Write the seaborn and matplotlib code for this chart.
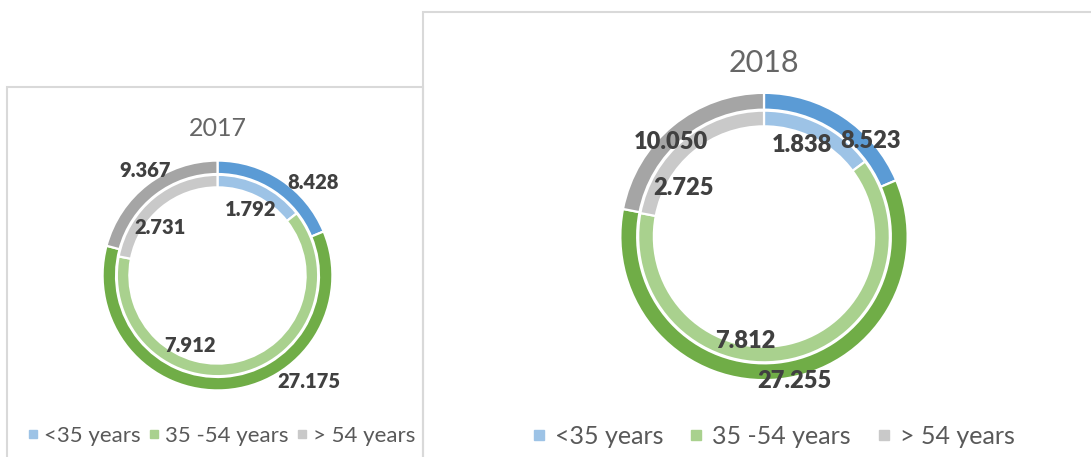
import matplotlib
matplotlib.use("Agg")
import matplotlib.pyplot as plt
import seaborn as sns
from matplotlib.lines import Line2D
from matplotlib.patches import Rectangle

# data
groups = ["<35 years", "35 -54 years", "> 54 years"]
years = ["2017", "2018"]
outer_2017 = [8.428, 27.175, 9.367]
inner_2017 = [1.792, 7.912, 2.731]
outer_2018 = [8.523, 27.255, 10.050]
inner_2018 = [1.838, 7.812, 2.725]

outer_colors = ["#5B9BD5", "#70AD47", "#A5A5A5"]
inner_colors = ["#9DC3E6", "#A9D18E", "#C9C9C9"]

sns.set_theme(style="white")
plt.rcParams["font.family"] = ["Lato", "DejaVu Sans"]

W, H = 1091, 457
fig = plt.figure(figsize=(W / 100, H / 100), dpi=100)

# panel frames (pixels: left, top, right)
for x0, y0, x1 in [(7, 87, 423), (423, 12, 1095)]:
    fig.add_artist(Rectangle((x0 / W, -0.05), (x1 - x0) / W, 1.05 - y0 / H,
                             transform=fig.transFigure, fill=False,
                             edgecolor="#D9D9D9", linewidth=1.5))

# panel layout: centre x, centre y, radius (px), title y, sizes, label spots
panels = [
    dict(cx=217.5, cy=275.5, r=114, ty=129, tsize=18, lsize=14.5, gx=222, gy=436, gsize=16,
         msize=5.5, hlen=0.4, gap=0.4, pad=0.3,
         spots_out=[(0.838, 0.820), (0.803, -0.934), (-0.636, 0.921)],
         spots_in=[(0.294, 0.575), (-0.241, -0.610), (-0.504, 0.417)]),
    dict(cx=764, cy=236.5, r=142.5, ty=63, tsize=22, lsize=17, gx=773, gy=436, gsize=18,
         msize=7, hlen=0.6, gap=1.0, pad=0.35,
         spots_out=[(0.744, 0.667), (0.211, -1.011), (-0.653, 0.660)],
         spots_in=[(0.267, 0.642), (-0.133, -0.730), (-0.568, 0.337)]),
]
outer_vals = [outer_2017, outer_2018]
inner_vals = [inner_2017, inner_2018]

for p, year, outer, inner in zip(panels, years, outer_vals, inner_vals):
    pad = 1.1
    side = 2 * p["r"] * pad
    ax = fig.add_axes([(p["cx"] - side / 2) / W, (H - p["cy"] - side / 2) / H, side / W, side / H])
    ax.pie(outer, radius=1.008, colors=outer_colors, startangle=90, counterclock=False,
           wedgeprops=dict(width=0.118, edgecolor="white", linewidth=1.6))
    ax.pie(inner, radius=0.883, colors=inner_colors, startangle=90, counterclock=False,
           wedgeprops=dict(width=0.11, edgecolor="white", linewidth=1.6))
    ax.set_xlim(-pad, pad)
    ax.set_ylim(-pad, pad)
    ax.axis("off")

    for v, (x, y) in zip(outer, p["spots_out"]):
        ax.text(x, y, f"{v:.3f}", ha="center", va="center", fontsize=p["lsize"],
                fontweight="heavy", color="#404040")
    for v, (x, y) in zip(inner, p["spots_in"]):
        ax.text(x, y, f"{v:.3f}", ha="center", va="center", fontsize=p["lsize"],
                fontweight="heavy", color="#404040")

    fig.text(p["cx"] / W, 1 - p["ty"] / H, year, ha="center", va="center",
             fontsize=p["tsize"], fontweight="normal", color="#666666")

    handles = [Line2D([], [], marker="s", linestyle="", markersize=p["msize"],
                      markerfacecolor=c, markeredgecolor=c) for c in inner_colors]
    fig.legend(handles, groups, loc="center", ncol=3, frameon=False,
               bbox_to_anchor=(p["gx"] / W, 1 - p["gy"] / H),
               fontsize=p["gsize"], labelcolor="#595959", handlelength=p["hlen"],
               handletextpad=p["pad"], columnspacing=p["gap"], borderpad=0)

fig.savefig("out.png", dpi=100)
